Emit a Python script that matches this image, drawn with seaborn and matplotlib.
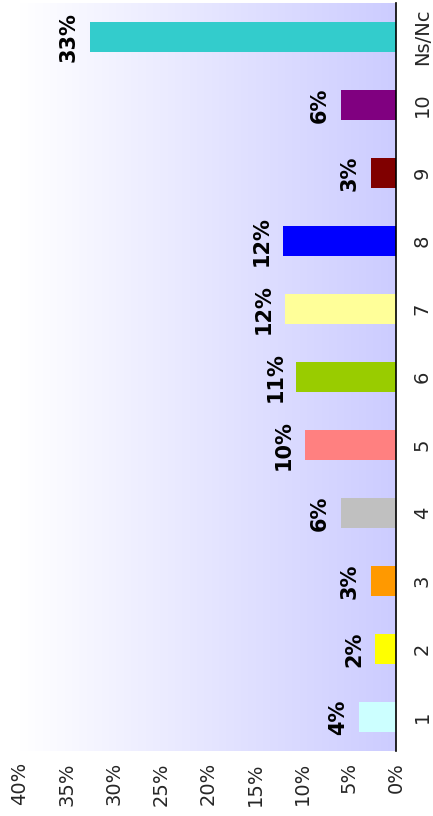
import numpy as np
import pandas as pd
import matplotlib
matplotlib.use("Agg")
import matplotlib.pyplot as plt
import seaborn as sns
from matplotlib.colors import LinearSegmentedColormap

categories = ["1", "2", "3", "4", "5", "6", "7", "8", "9", "10", "Ns/Nc"]
values = [3.9, 2.2, 2.7, 5.85, 9.7, 10.6, 11.8, 12.0, 2.7, 5.85, 32.6]
labels = ["4%", "2%", "3%", "6%", "10%", "11%", "12%", "12%", "3%", "6%", "33%"]
colors = ["#CCFFFF", "#FFFF00", "#FF9900", "#C0C0C0", "#FF8080", "#99CC00",
          "#FFFF99", "#0000FF", "#800000", "#800080", "#33CCCC"]
xticks = [0, 5, 10, 15, 20, 25, 30, 35, 40]
xticklabels = ["0%", "5%", "10%", "15%", "20%", "25%", "30%", "35%", "40%"]

sns.set_theme(style="white")
plt.rcParams["font.family"] = ["DejaVu Sans"]

df = pd.DataFrame({"cat": categories, "val": values})
order = categories[::-1]
pal = dict(zip(categories, colors))

W, H = 433, 816
fig = plt.figure(figsize=(W / 100, H / 100), dpi=100)
ax = fig.add_axes([20 / W, (H - 751) / H, (396 - 20) / W, (751 - 3) / H])

sns.barplot(data=df, x="val", y="cat", hue="cat", order=order, palette=pal,
            orient="h", width=0.43, legend=False, ax=ax, saturation=1,
            linewidth=0)

# gradient background
grad = np.linspace(0, 1, 256).reshape(1, -1)
cmap = LinearSegmentedColormap.from_list("bg", ["#FFFFFF", "#CCCCFF"])
ax.imshow(grad, cmap=cmap, aspect="auto", extent=(40, 0, 10.5, -0.5),
          zorder=0, interpolation="bicubic")
ax.set_xlim(40, 0)
ax.set_ylim(10.5, -0.5)
for p in ax.patches:
    p.set_zorder(2)

for cat, v, lab in zip(categories, values, labels):
    yi = order.index(cat)
    ax.annotate(lab, xy=(v, yi), xytext=(-8, 0), textcoords="offset points",
                rotation=90, ha="right", va="center", fontsize=15,
                fontweight="bold", color="black")

ax.set_xticks(xticks)
ax.set_xticklabels(xticklabels, rotation=90, fontsize=14)
ax.yaxis.tick_right()
ax.set_yticks(range(len(order)))
ax.set_yticklabels(order, rotation=90, fontsize=14, va="center")
ax.tick_params(axis="both", length=0)
ax.tick_params(axis="x", pad=8)
ax.tick_params(axis="y", pad=12)
ax.set_xlabel("")
ax.set_ylabel("")
for s in ["top", "left", "bottom"]:
    ax.spines[s].set_visible(False)
ax.spines["right"].set_visible(True)
ax.spines["right"].set_color("black")
ax.spines["right"].set_linewidth(1.2)
ax.grid(False)

fig.savefig("out.png", dpi=100)
